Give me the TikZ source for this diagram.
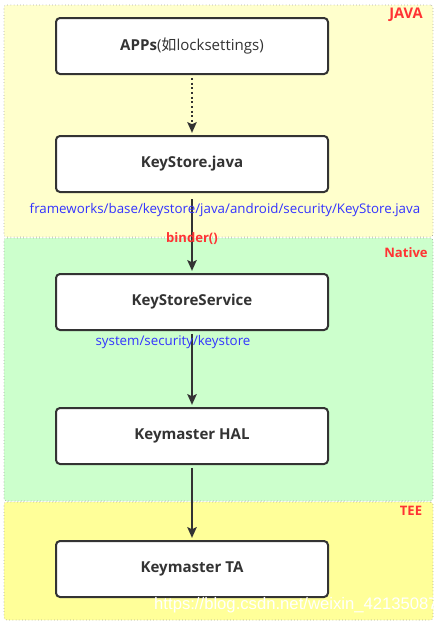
\documentclass[tikz,border=0pt]{standalone}
\usepackage{fontspec}
\setmainfont{Open Sans}
\newfontfamily\cjk{Noto Sans CJK SC}
\newfontfamily\wmfont{Liberation Sans}
\usetikzlibrary{arrows.meta,positioning,fit,backgrounds}
\definecolor{ksjava}{HTML}{FFFFCC}
\definecolor{ksnative}{HTML}{CCFFCC}
\definecolor{kstee}{HTML}{FFFF99}
\definecolor{ksline}{HTML}{333333}
\definecolor{ksred}{HTML}{FF3333}
\definecolor{ksblue}{HTML}{3333FF}
\definecolor{ksborder}{HTML}{8A8A8A}
\tikzset{
  layer/.style={draw=ksborder, dotted, thin, rounded corners=2pt, inner sep=0pt},
  block/.style={draw=ksline, line width=1.5pt, fill=white, rounded corners=3pt,
                minimum width=204pt, minimum height=42pt, text=ksline,
                font=\fontsize{11.3}{13}\selectfont\bfseries},
  tag/.style={font=\fontsize{9.8}{11}\selectfont\bfseries, text=ksred, inner sep=0pt},
  srcpath/.style={font=\fontsize{10}{12}\selectfont, text=ksblue, inner sep=0pt},
  flow/.style={-{Stealth[length=8pt,width=7pt,inset=1.5pt]}, line width=1.5pt,
               draw=ksline, shorten <=2.2pt, shorten >=1.6pt},
  callflow/.style={flow, dotted},
}

\begin{document}
\begin{tikzpicture}[x=0.75pt, y=-0.75pt]
\useasboundingbox (0,0) rectangle (442,625);

\node[block] (apps) at (192,46)  {APPs\mdseries({\cjk 如}locksettings)};
\node[block] (ks)   at (192,164) {KeyStore.java};
\node[block] (kss)  at (192,302) {KeyStoreService};
\node[block] (hal)  at (192,436) {Keymaster HAL};
\node[block] (ta)   at (192,569) {Keymaster TA};

\draw[callflow] (apps) -- (ks);
\draw[flow, shorten <=4.5pt] (ks) -- node[tag, pos=0.575] {binder()} (kss);
\draw[flow] (kss) -- (hal);
\draw[flow] (hal) -- (ta);

\node[srcpath] (ksrc)  at (225,210) {frameworks/base/keystore/java/android/security/KeyStore.java};
\node[srcpath] (kssrc) at (173,342) {system/security/keystore};

% the three layers, behind everything
\coordinate (javaNW) at (4,5);     \coordinate (javaSE) at (433,237);
\coordinate (nativeNW) at (4,238); \coordinate (nativeSE) at (433,501);
\coordinate (teeNW) at (4,502);    \coordinate (teeSE) at (433,620);
\begin{scope}[on background layer]
  \fill[white] (0,0) rectangle (442,625);
  \node[layer, fill=ksjava, fit=(javaNW)(javaSE)] (java) {};
  \node[layer, fill=ksnative, fit=(nativeNW)(nativeSE)] (native) {};
  \node[layer, fill=kstee, fit=(teeNW)(teeSE)] (tee) {};
\end{scope}

\node[tag, font=\fontsize{11}{12}\selectfont\bfseries] (javatag) at (406,15) {JAVA};
\node[tag] (nativetag) at (406,253) {Native};
\node[tag] (teetag)    at (411,511) {TEE};

\node[font=\wmfont\fontsize{12.5}{14}\selectfont, text=white, inner sep=0pt]
  (mark) at (296,605) {https://blog.csdn.net/weixin\_42135087};

\end{tikzpicture}
\end{document}
